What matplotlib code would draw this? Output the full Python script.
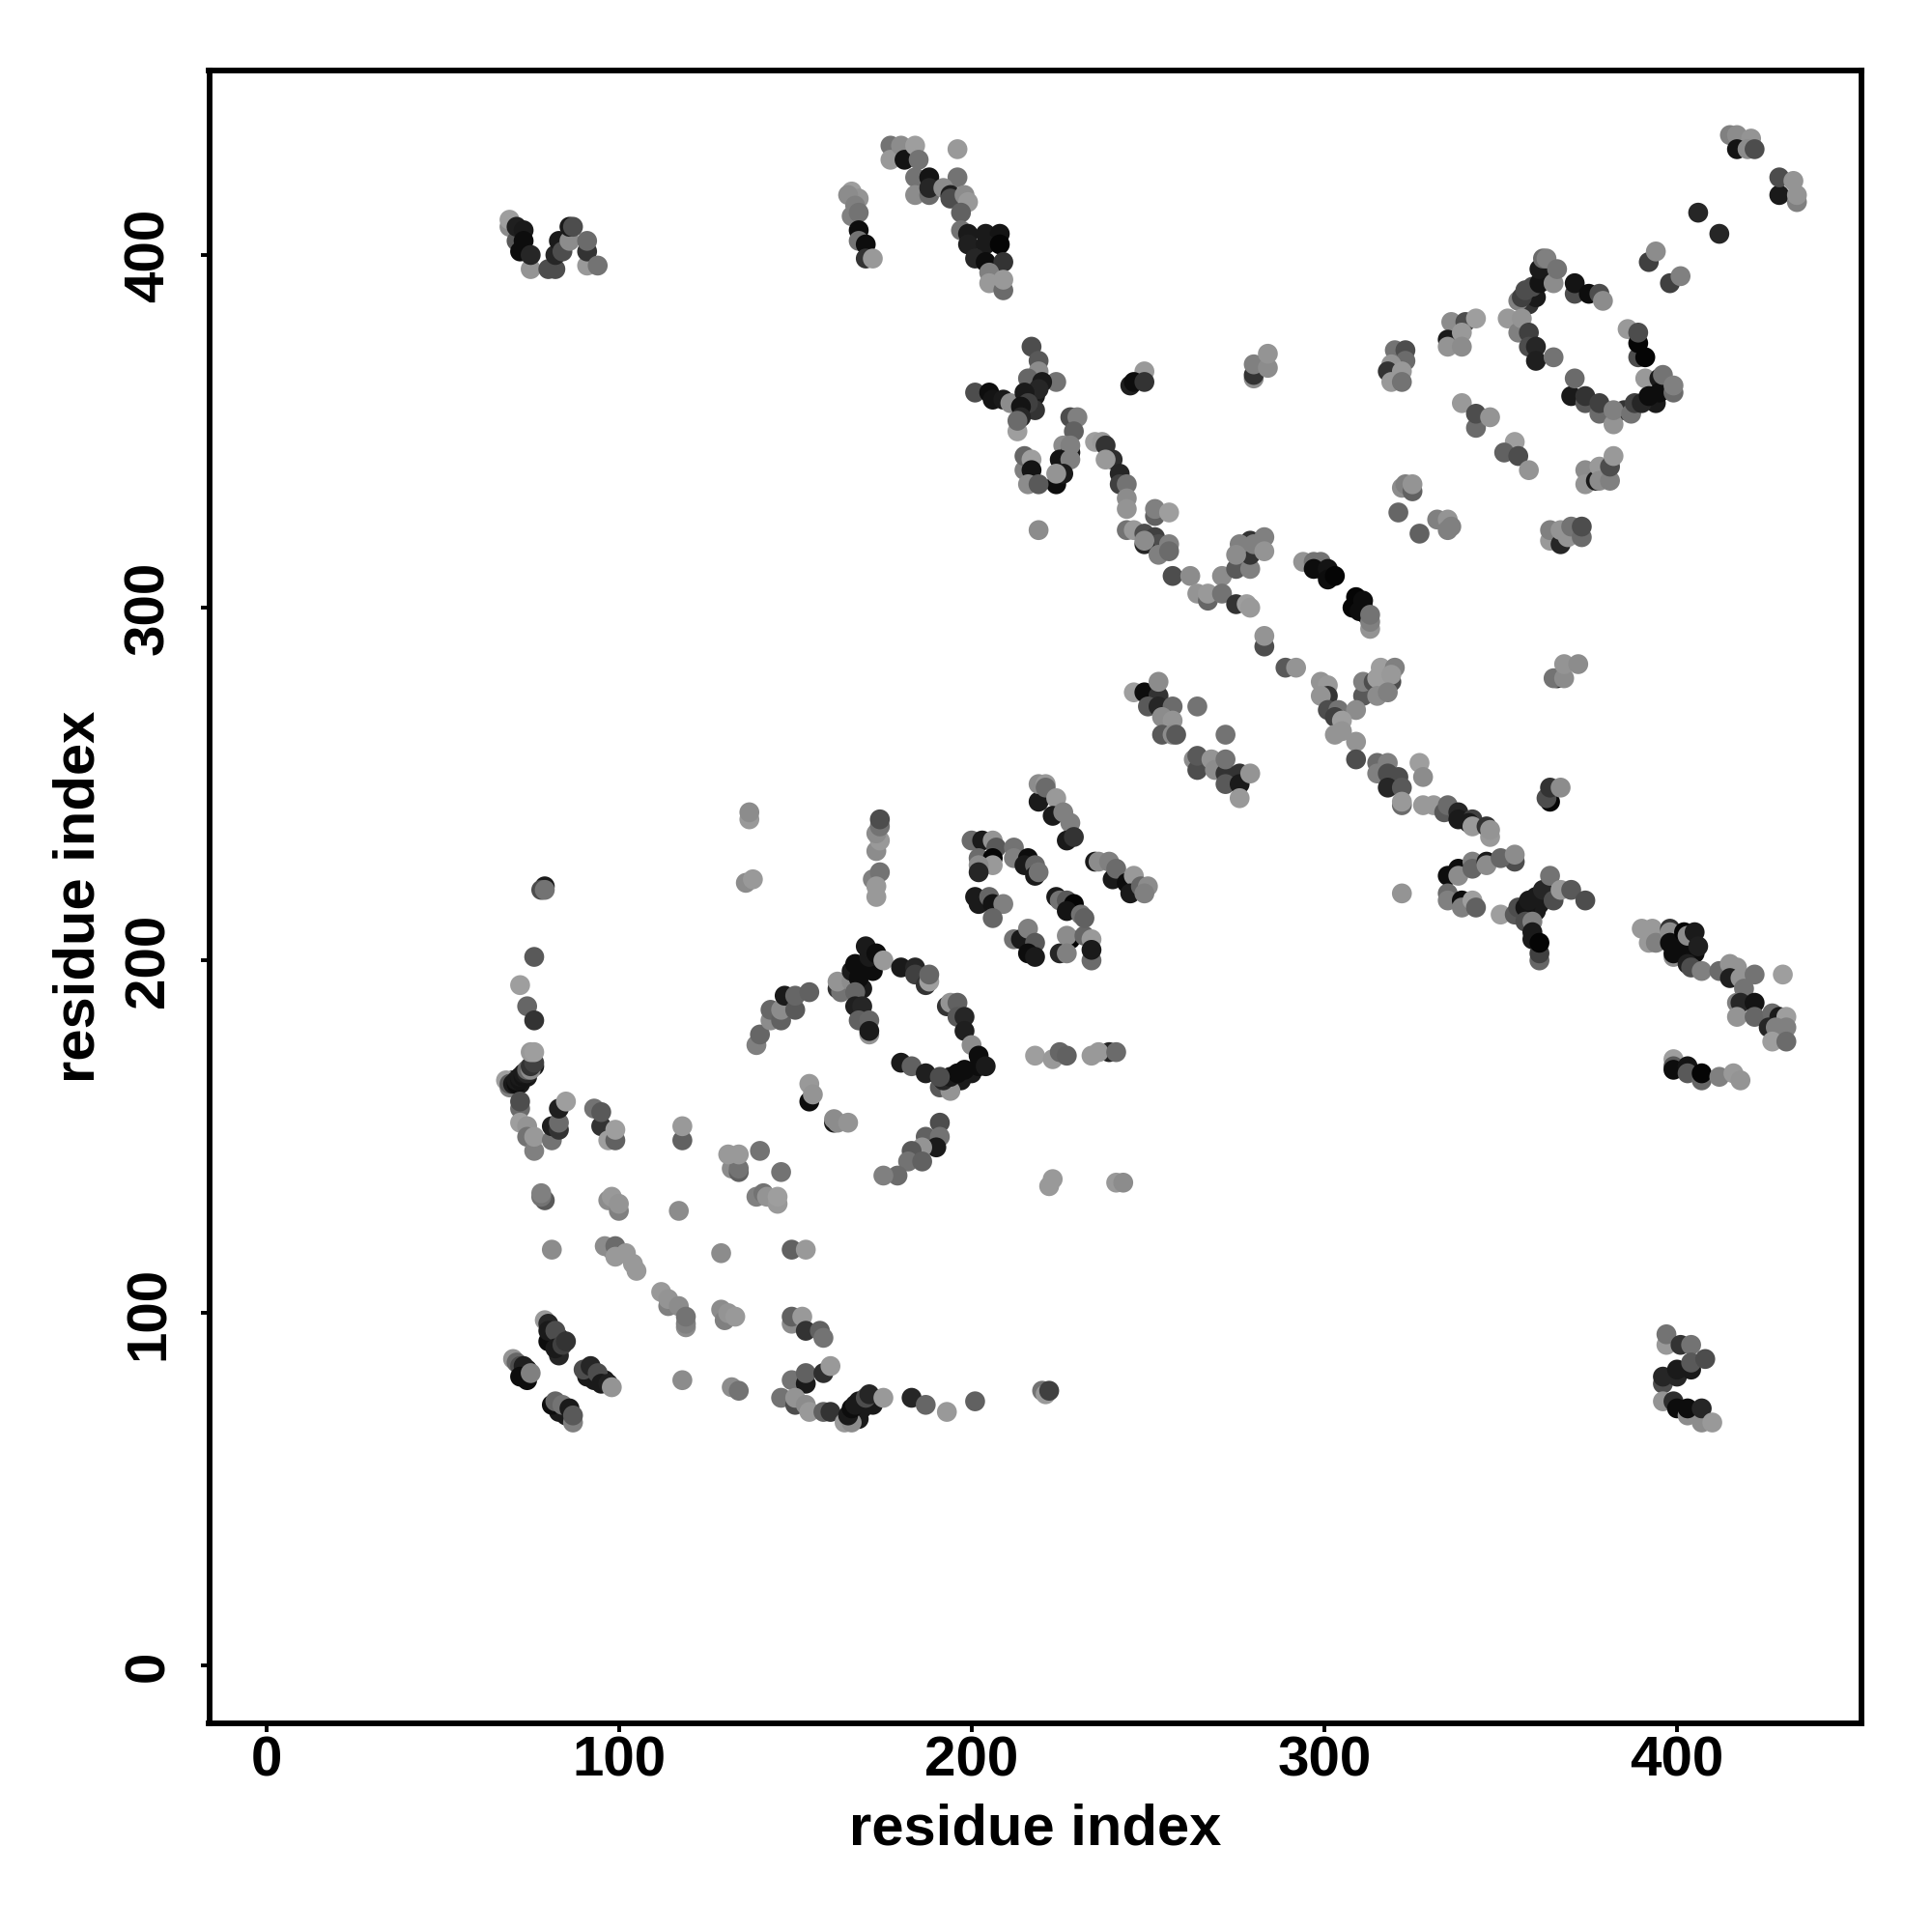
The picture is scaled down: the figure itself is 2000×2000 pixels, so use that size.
import matplotlib
matplotlib.use("Agg")
import matplotlib.pyplot as plt

# every contact is (residue i, residue j, grey level)
under_dark = [(70,166,.1),(72,165,.1),(74,167,.1),(76,170,.1),(73,83,.1),(74,84,.05),(80,92,.05),(83,93,.1),(83,88,.15),(91,82,.1),(93,81,.1),(96,81,.1),
    (83,72,.1),(85,71,.1),(166,70,.15),(168,70,.1),(169,73,.1),(172,74,.1),(215,359,.1),(217,357,.1),(218,360,.1),(218,356,.2),
    (299,311,.1),(302,309,.05),(311,300,.05),(312,298,.1),(360,214,.1),(361,216,.1),(400,206,.05),(404,206,.1),(405,202,.05),
    (385,356,.2),(392,360,.1),(394,358,.1),(358,386,.2),(360,388,.1),(362,394,.1),(169,192,.1),(172,197,.05),(194,165,.1),(197,166,.1),(200,168,.1),(202,170,.05)]
lower_strand = [(68,166,.62),(69,164,.5),(69,165,.35),(70,165,.1),(71,165,.05),(71,166,.1),(72,166,.08),(72,167,.1),(73,167,.08),(73,168,.1),(74,168,.15),(74,169,.4),(75,169,.55),(75,170,.2),(76,171,.25),(75,174,.6),(76,174,.62),
    (72,193,.62),(74,187,.4),(76,183,.2),(76,201,.35)]
lower_left = [(72,158,.42),(72,160,.3),(72,154,.62),(74,153,.58),(74,150,.45),(76,146,.5),(76,150,.6),(81,149,.45),(81,153,.12),(83,152,.2),(83,154,.42),(83,158,.12),(85,160,.62),
    (93,158,.45),(95,153,.2),(95,157,.35),(97,149,.62),(99,149,.38),(99,152,.62),(118,149,.38),(118,153,.6),
    (132,141,.55),(134,140,.38),(134,141,.45),(131,145,.6),(134,145,.6),(140,146,.45),(146,140,.45),(139,133,.5),(141,134,.45),(142,133,.58),(145,131,.6),(145,133,.62),
    (79,132,.35),(78,133,.45),(78,134,.5),(97,132,.55),(98,133,.6),(100,129,.5),(100,131,.58),(117,129,.55),(81,118,.55)]
helix_mid = [(96,119,.55),(98,118,.55),(99,119,.42),(99,116,.6),(102,117,.6),(104,114,.6),(105,112,.6),
    (112,106,.6),(114,102,.5),(114,104,.58),(117,102,.55),(119,96,.55),(119,97,.5),(119,99,.45),(129,117,.55),(149,118,.38),(153,118,.6),
    (129,101,.55),(130,98,.5),(131,100,.58),(133,99,.6),(149,97,.55),(149,99,.38),(152,99,.6),(153,95,.2),(157,95,.38),(158,93,.45),
    (118,81,.55),(132,79,.55),(134,78,.45)]
lower_tail = [(149,81,.45),(153,80,.1),(153,83,.38),(158,83,.18),(160,85,.6),(146,76,.45),(150,74,.3),(150,76,.58),(153,74,.55),(154,72,.6),(158,72,.38),(160,72,.2),
    (164,69,.6),(166,69,.55),(165,71,.1),(166,73,.05),(167,74,.1),(168,75,.1),(170,76,.3),(171,77,.15),(175,76,.6),(183,76,.15),(187,74,.4),(193,72,.6),(201,75,.38),
    (220,78,.45),(221,77,.6),(222,78,.25)]
lower_pairs = [(70,87,.58),(71,86,.4),(72,85,.3),(73,85,.12),(72,82,.05),(74,81,.05),(75,83,.5),
    (79,98,.6),(80,97,.15),(80,95,.1),(82,95,.3),(82,90,.1),(84,91,.25),(85,92,.2),
    (90,84,.3),(92,85,.15),(94,83,.3),(95,80,.1),(97,80,.12),(98,79,.58),
    (81,74,.05),(82,75,.4),(84,74,.45),(86,73,.1),(87,69,.5),(87,71,.35)]
ring_one = [(139,176,.5),(140,179,.4),(143,183,.55),(143,186,.4),(146,183,.38),(146,186,.55),(147,190,.1),(150,186,.35),(150,190,.4),(154,191,.38),
    (170,204,.1),(162,192,.2),(163,191,.45),(162,194,.58),(166,194,.55),(166,197,.1),(167,199,.05),(168,195,.05),(170,198,.05),(171,201,.1),(173,202,.05),(175,200,.6),
    (167,191,.4),(167,187,.12),(169,187,.15),(168,183,.38),(171,183,.4),(171,179,.58),(171,180,.1),
    (180,198,.1),(184,198,.15),(184,196,.25),(187,193,.2),(188,194,.62),(188,196,.4),
    (193,187,.2),(194,188,.58),(196,188,.38),(196,184,.35),(198,184,.15),(198,180,.12),(200,176,.55),
    (191,164,.35),(194,163,.58),(192,166,.15),(194,167,.1),(196,168,.05),(198,169,.05),(202,173,.05),(204,170,.1),
    (180,171,.1),(183,170,.38),(187,168,.12),(191,167,.3)]
ring_tail = [(154,165,.6),(154,160,.05),(155,162,.58),(161,154,.1),(162,154,.55),(161,155,.55),(165,154,.58),
    (191,154,.3),(187,150,.38),(191,150,.45),(190,147,.1),(186,147,.58),(183,146,.35),(182,143,.45),(186,143,.38),(179,139,.42),(175,139,.5)]
helix_pairs = [(200,234,.42),(203,234,.1),(206,234,.58),(207,232,.35),(202,229,.42),(206,229,.02),(206,227,.6),(202,227,.55),(202,225,.15),
    (212,232,.45),(212,229,.5),(216,229,.05),(215,227,.1),(218,227,.4),(218,224,.1),(219,225,.45),
    (201,218,.1),(202,216,.1),(205,218,.4),(206,216,.08),(209,216,.5),(206,212,.4),
    (212,206,.45),(214,206,.1),(216,209,.5),(218,205,.35),(216,202,.05),(218,201,.1),
    (225,202,.15),(228,206,.02),(227,207,.55),(227,202,.5),(232,207,.4),(234,206,.6),(234,200,.42),(234,203,.1),
    (224,218,.1),(225,217,.45),(227,217,.35),(229,216,.02),(227,214,.08),(231,213,.45),(232,212,.38),
    (219,245,.1),(219,250,.55),(221,250,.6),(221,249,.42),(224,246,.6),(223,241,.1),(226,242,.5),(228,239,.5),(227,234,.1),(229,235,.2),
    (235,228,.1),(236,228,.55),(239,228,.5),(240,223,.1),(241,226,.42),(244,222,.05),(246,224,.6),(245,219,.1),(248,221,.4),(250,221,.55),(249,219,.5)]
sparse_mid = [(218,173,.62),(223,172,.6),(225,174,.4),(227,173,.38),(234,173,.6),(239,174,.15),(236,174,.6),(241,174,.42),
    (222,136,.6),(223,138,.6),(241,137,.6),(243,137,.55),
    (136,222,.55),(138,223,.6),(137,240,.6),(137,242,.55),
    (79,221,.1),(78,220,.3),(79,220,.45),
    (173,218,.6),(172,223,.5),(174,225,.45),(173,221,.6),(173,231,.55),(174,234,.6),(173,236,.55),(174,238,.45),(174,240,.3)]
upper_left = [(69,408,.55),(69,410,.62),(71,404,.35),(71,408,.12),(73,407,.1),(73,404,.05),(72,401,.05),(75,396,.58),(75,400,.15),
    (80,396,.3),(82,396,.3),(82,400,.15),(83,404,.1),(84,401,.3),(86,404,.55),(86,408,.1),(87,408,.3),(91,397,.6),(91,401,.2),(91,404,.42),(94,397,.45)]
upper_mid = [(166,418,.62),(168,416,.58),(165,417,.55),(167,414,.5),(166,411,.5),(168,412,.45),(168,407,.05),(168,404,.45),(170,403,.05),(170,399,.2),(172,399,.6),
    (177,431,.45),(177,427,.6),(180,431,.55),(181,427,.08),(184,431,.62),(185,427,.45),(184,422,.45),(184,417,.55),(188,422,.08),(188,417,.42),(188,419,.15),
    (196,430,.6),(196,422,.45),(192,419,.55),(194,417,.12),(194,416,.3),(198,417,.55),(199,415,.6),(197,412,.38),
    (197,407,.45),(199,406,.1),(199,403,.12),(204,406,.1),(208,406,.08),(204,403,.1),(208,403,.02),(201,399,.15),(204,398,.05),(209,398,.2),(205,395,.5),(205,392,.6),(209,390,.42),(209,393,.6)]
centre_arm = [(217,374,.3),(219,370,.35),(219,367,.55),(216,365,.4),(224,364,.45),(220,364,.1),(219,362,.15),(201,361,.3),(205,361,.05),(206,359,.08),(209,359,.1),(211,358,.55),(215,361,.1),(216,358,.25),(214,357,.08),(214,354,.15),(213,350,.62),(213,353,.42),
    (249,367,.6),(245,363,.12),(246,364,.05),(249,364,.2),
    (280,365,.55),(280,366,.2),(280,369,.5),(284,368,.55),(284,372,.58),
    (228,354,.3),(230,354,.5),(229,350,.38),(226,346,.55),(228,344,.1),(228,346,.5),(225,342,.08),(228,342,.5),(224,335,.05),(226,338,.1),(224,338,.58),
    (215,339,.5),(215,343,.4),(217,342,.62),(217,339,.08),(216,335,.55),(219,335,.35),(219,322,.55)]
centre_diag = [(235,347,.62),(237,347,.6),(238,346,.2),(240,342,.18),(238,342,.6),(242,338,.15),(242,335,.25),(244,335,.45),(244,331,.55),(244,328,.58),
    (252,326,.38),(252,328,.5),(256,327,.62),(244,322,.45),(246,322,.6),(249,321,.3),(252,320,.25),(253,318,.3),(249,318,.15),(249,319,.55),(256,318,.5),(253,315,.5),(256,316,.42),
    (257,309,.3),(262,309,.55),(271,309,.55),(275,311,.35),(279,311,.5),
    (264,304,.58),(267,302,.4),(267,304,.6),(271,304,.45),(275,301,.2),(278,301,.62),(279,300,.6),
    (279,319,.2),(279,315,.2),(276,318,.5),(275,315,.55),(280,318,.5),(283,320,.5),(283,316,.58)]
centre_strands = [(294,313,.58),(297,313,.45),(299,313,.45),(297,311,.05),(301,311,.08),(301,308,.05),(303,309,.02),
    (309,303,.02),(308,300,.02),(311,302,.05),(310,299,.05),(313,294,.58),(313,296,.5),(313,298,.45),
    (283,289,.3),(283,292,.58),(289,283,.35),(292,283,.58),
    (299,279,.58),(301,278,.6),(301,275,.2),(299,275,.58),(311,275,.35),(311,279,.5),(301,271,.3),(304,271,.45),(309,271,.55),(303,269,.25),(305,268,.62),(305,265,.58),(303,264,.58),(309,262,.58),(309,257,.3),
    (314,279,.3),(319,279,.3),(315,280,.62),(316,283,.62),(320,283,.5),(319,281,.6),(315,275,.55),(318,276,.5),
    (315,256,.42),(318,256,.5),(315,253,.5),(318,253,.3),(321,252,.3),(318,249,.15),(322,249,.35),(322,244,.42),(322,245,.6),(327,256,.62),(328,252,.55)]
patch_250 = [(246,276,.62),(249,276,.05),(253,275,.2),(253,279,.55),(250,272,.35),(253,272,.15),(257,272,.42),(264,272,.45),(254,269,.55),(257,268,.58),(254,264,.35),(257,264,.55),(258,264,.35),(272,264,.45),
    (263,257,.55),(264,254,.3),(264,258,.35),(268,257,.58),(269,254,.55),(272,253,.2),(272,257,.45),(276,253,.2),(272,250,.35),(276,250,.1),(279,253,.58),(276,246,.6)]
lower_band = [(328,244,.6),(331,244,.6),(334,242,.35),(335,244,.42),(338,242,.15),(338,240,.1),(342,240,.25),(341,239,.1),(342,238,.6),(346,238,.2),(347,235,.6),(347,237,.58),
    (364,245,.02),(363,246,.3),(364,249,.2),(367,249,.55),
    (366,280,.15),(365,280,.45),(368,280,.55),(368,284,.58),(372,284,.55),
    (335,224,.05),(338,226,.05),(338,224,.55),(342,228,.5),(342,226,.4),(346,228,.1),(346,227,.55),(354,228,.3),(350,229,.4),(354,230,.55),
    (335,219,.42),(335,217,.5),(339,217,.05),(339,215,.5),(342,217,.62),(343,215,.38),(322,219,.58)]
star_360 = [(350,213,.62),(354,213,.35),(355,215,.3),(357,215,.08),(358,217,.1),(360,218,.1),(362,220,.15),(364,224,.45),(365,217,.3),(367,220,.6),(370,220,.35),(374,217,.3),
    (357,211,.3),(359,211,.5),(359,208,.1),(359,206,.1),(361,200,.4),(361,202,.25),(361,205,.02)]
right_end = [(390,209,.6),(393,209,.6),(392,205,.6),(394,205,.5),(398,209,.2),(398,208,.55),(398,205,.05),(399,201,.55),(399,202,.05),(402,208,.02),(402,204,.05),(403,207,.55),(405,208,.1),(406,204,.12),(403,199,.12),(404,198,.3),(407,197,.5),
    (412,197,.42),(415,199,.58),(417,198,.58),(415,195,.12),(418,195,.58),(419,192,.45),(422,196,.45),(430,196,.62),
    (417,188,.5),(418,188,.15),(422,188,.08),(417,184,.58),(422,184,.4),(427,185,.42),(429,184,.1),(431,184,.62),(426,181,.15),(428,181,.5),(431,181,.5),(427,177,.62),(431,177,.42),
    (399,172,.62),(399,170,.35),(399,169,.05),(403,170,.08),(403,168,.35),(407,166,.4),(407,168,.02),(412,167,.5),(416,168,.6),(418,166,.58)]
corner_400 = [(397,91,.6),(397,94,.45),(401,91,.2),(404,91,.45),(396,80,.3),(396,82,.15),(400,82,.15),(400,84,.1),(404,84,.1),(404,86,.35),(408,87,.3),
    (396,75,.58),(399,75,.18),(400,73,.05),(403,71,.55),(403,73,.05),(407,69,.55),(407,73,.15),(410,69,.6)]
top_right = [(415,434,.5),(417,434,.55),(421,433,.58),(417,430,.08),(420,430,.55),(422,430,.3),(429,417,.1),(429,422,.3),(433,421,.58),(434,415,.5),(434,417,.58),
    (406,412,.15),(412,406,.15),(392,398,.25),(394,401,.55),(398,392,.25),(401,394,.5)]
ring_two = [(355,387,.5),(356,388,.25),(357,390,.3),(359,391,.3),(361,392,.08),(361,396,.1),(362,399,.42),(363,399,.5),(365,392,.55),(366,396,.45),
    (371,389,.3),(371,392,.08),(375,389,.05),(378,389,.3),(379,387,.55),
    (352,382,.6),(355,378,.5),(356,382,.58),(358,378,.25),(358,374,.3),(360,374,.15),(360,370,.12),(365,371,.45),
    (386,379,.6),(389,371,.3),(389,375,.02),(389,378,.3),(391,371,.02),
    (370,360,.1),(371,365,.42),(374,358,.35),(374,360,.2),(378,355,.42),(378,358,.25),(382,352,.58),(382,356,.5),
    (387,355,.45),(388,358,.25),(390,358,.15),(391,365,.6),(392,360,.05),(395,365,.1),(395,361,.05),(396,366,.45),(399,361,.42),(399,363,.5)]
left_of_ring = [(336,381,.55),(335,376,.1),(335,374,.58),(340,381,.3),(339,378,.6),(339,374,.55),(343,382,.62),
    (320,373,.45),(323,373,.3),(323,370,.42),(319,369,.58),(318,367,.2),(322,367,.6),(319,364,.6),(322,364,.45),
    (339,358,.6),(343,351,.42),(343,355,.3),(347,354,.58),(354,347,.62),(351,344,.38),(355,343,.3),(358,339,.58),
    (374,339,.55),(374,335,.58),(377,336,.1),(378,340,.6),(378,336,.55),(381,336,.5),(381,340,.3),(382,343,.6),
    (322,334,.55),(323,335,.5),(325,333,.38),(325,335,.58),(321,327,.4),(327,321,.38),(332,325,.5),(335,325,.58),(336,323,.5),(335,322,.5),
    (364,319,.6),(364,322,.5),(367,318,.15),(367,322,.58),(369,320,.58),(370,323,.45),(373,320,.42),(373,323,.3)]

regions = [under_dark, lower_strand, lower_left, helix_mid, lower_tail, lower_pairs, ring_one, ring_tail, helix_pairs,
           sparse_mid, upper_left, upper_mid, centre_arm, centre_diag, centre_strands, patch_250, lower_band,
           star_360, right_end, corner_400, top_right, ring_two, left_of_ring]
contacts = [c for region in regions for c in region]

tick_values = [0, 100, 200, 300, 400]

plt.rcParams['font.family'] = ['Liberation Sans', 'DejaVu Sans']
plt.rcParams['font.weight'] = 'bold'

fig = plt.figure(figsize=(10, 10), dpi=200)
ax = fig.add_axes([216.5 / 2000, 1 - 1783.5 / 2000, (1927 - 216.5) / 2000, (1783.5 - 73) / 2000])

ax.scatter([c[0] for c in contacts], [c[1] for c in contacts], s=55,
           c=[str(c[2]) for c in contacts], linewidths=0, zorder=3)

ax.set_xlim(-16.16, 452.3)
ax.set_ylim(-16.16, 452.3)
ax.set_xticks(tick_values)
ax.set_yticks(tick_values)
ax.tick_params(axis='x', length=3.2, width=1.4, labelsize=21, pad=1.5)
ax.tick_params(axis='y', length=3.2, width=1.4, labelsize=21, pad=9.4)
for lab in ax.get_yticklabels():
    lab.set_rotation(90)
    lab.set_va('center')
for side in ax.spines.values():
    side.set_linewidth(2.1)

ax.set_xlabel("residue index", fontsize=21.5, fontweight='bold', labelpad=5.8)
ax.set_ylabel("residue index", fontsize=21.5, fontweight='bold', labelpad=6.4)

fig.savefig("out.png", dpi=200)
